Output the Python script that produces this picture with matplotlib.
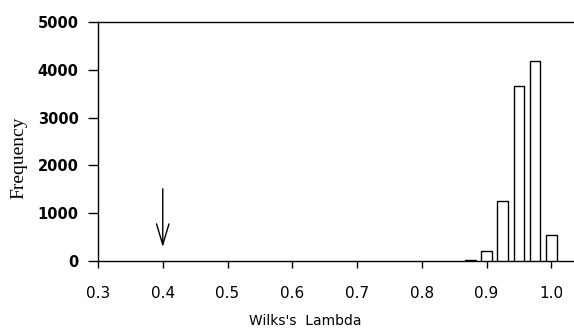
import numpy as np
import matplotlib
matplotlib.use("Agg")
import matplotlib.pyplot as plt

# histogram of Wilks's lambda (bin centres and counts)
bin_centres = [0.875, 0.900, 0.925, 0.950, 0.975, 1.000]
counts = [20, 210, 1250, 3660, 4175, 550]
observed = 0.4  # arrow marks the observed value

xticks = [0.3, 0.4, 0.5, 0.6, 0.7, 0.8, 0.9, 1.0]
yticks = [0, 1000, 2000, 3000, 4000, 5000]

plt.rcParams['font.family'] = ['DejaVu Sans']

fig = plt.figure(figsize=(5.74, 3.33), dpi=100)
ax = fig.add_axes([98 / 574, 1 - 261 / 333, 1 - 98 / 574, 239 / 333])

ax.bar(bin_centres, counts, width=0.0165, color='white', edgecolor='black',
       linewidth=1.0, zorder=3)

ax.annotate('', xy=(observed, 290), xytext=(observed, 1510),
            arrowprops=dict(arrowstyle='->,head_length=1.0,head_width=0.3',
                            color='black', lw=1.0, mutation_scale=15,
                            shrinkA=0, shrinkB=0))

ax.set_xlim(0.3, 1.035)
ax.set_ylim(0, 5000)
ax.set_xticks(xticks)
ax.set_xticklabels(['%.1f' % v for v in xticks], fontsize=11)
ax.set_yticks(yticks)
ax.set_yticklabels([str(v) for v in yticks], fontsize=10.5, fontweight='bold')
ax.tick_params(axis='y', direction='out', length=7, width=1, pad=7)
ax.tick_params(axis='x', direction='out', length=5, width=1, pad=13)

ax.spines['right'].set_visible(False)
for s in ['left', 'bottom', 'top']:
    ax.spines[s].set_linewidth(1.0)

fig.text(305 / 574, 1 - 321 / 333, "Wilks's  Lambda", fontsize=10,
         ha='center', va='center')
fig.text(19 / 574, 1 - 158 / 333, 'Frequency', fontsize=14, rotation=90,
         ha='center', va='center', family=['Liberation Serif', 'DejaVu Serif'])

fig.savefig('out.png', dpi=100)
